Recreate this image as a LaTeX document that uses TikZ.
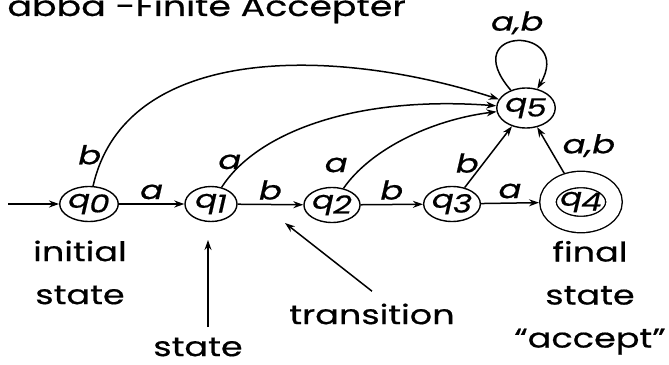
\documentclass[tikz,border=0pt]{standalone}
\usepackage{fontspec}
\setmainfont{Poppins}[FakeStretch=1.3, FakeBold=0.6]
\usetikzlibrary{shapes.geometric, arrows.meta, positioning}
\newcommand{\qst}[1]{\textit{q\kern-0.5pt\raisebox{-0.35ex}{#1}}}
\tikzset{
    state/.style={ellipse, draw, line width=0.7pt, minimum width=26pt, minimum height=17.5pt, inner sep=0pt, font=\fontsize{12.5}{13}\selectfont},
    accepting/.style={state, double, double distance=7.5pt, minimum width=33pt, minimum height=22.5pt, outer sep=4.5pt},
    trans/.style={-{Stealth[length=5pt, width=3.5pt]}, line width=0.75pt},
    lbl/.style={font=\fontsize{13}{14}\itshape\selectfont, inner sep=2pt},
    note/.style={font=\fontsize{13.5}{21.5}\selectfont, align=center, inner sep=0pt},
    title/.style={font=\fontsize{14}{16}\selectfont, inner sep=0pt}
}
\begin{document}
\begin{tikzpicture}[x=0.5pt, y=-0.5pt]
  \useasboundingbox (0,0) rectangle (669,364);
  \node[title, anchor=base west] (ttl) at (7,16) {abba -Finite Accepter};
  \node[state] (q0) at (89,204) {\qst{0}};
  \node[state] (q1) at (211,204) {\qst{1}};
  \node[state] (q2) at (332,205) {\qst{2}};
  \node[state] (q3) at (452,204) {\qst{3}};
  \node[accepting] (q4) at (581,202) {\qst{4}};
  \node[state, minimum height=20pt] (q5) at (526,108) {\qst{5}};
  \coordinate (start) at (8,204);
  \node[note, below=9pt of q0, xshift=-4.5pt] (initial) {initial\\state};
  \node[note, below=3.5pt of q4, xshift=4.5pt] (final) {final\\state\\“accept”};
  \node[note] (trname) at (372,314) {transition};
  \node[note] (stname) at (198,347) {state};
  \coordinate (sttip) at (208,240);
  \coordinate (trtip) at (285,223);
  % main row
  \draw[trans] (start) -- (q0);
  \draw[trans] (q0) -- node[lbl, above] {a} (q1);
  \draw[trans] (q1) -- node[lbl, above] {b} (q2);
  \draw[trans] (q2) -- node[lbl, above] {b} (q3);
  \draw[trans] (q3) -- node[lbl, above] {a} (q4);
  % into the trap state
  \draw[trans] (q0) .. controls (125,45) and (330,45) .. node[lbl, pos=0.08, left, inner sep=1pt] {b} (q5);
  \draw[trans] (q1) .. controls (255,135) and (350,95) .. node[lbl, pos=0.17, left, inner sep=1pt] {a} (q5);
  \draw[trans] (q2) .. controls (370,150) and (430,120) .. node[lbl, pos=0.1, above left] {a} (q5);
  \draw[trans] (q3) -- node[lbl, pos=0.4, left] {b} (q5);
  \draw[trans] (q4) -- node[lbl, pos=0.6, right=5pt] {a,b} (q5);
  \draw[trans] (q5) .. controls (455,25) and (575,25) .. node[lbl, above, inner sep=3pt] {a,b} (q5);
  % pointers
  \draw[trans] ([xshift=5pt, yshift=5pt]stname.north) -- (sttip);
  \draw[trans] ([yshift=6pt]trname.north) -- (trtip);
\end{tikzpicture}
\end{document}
